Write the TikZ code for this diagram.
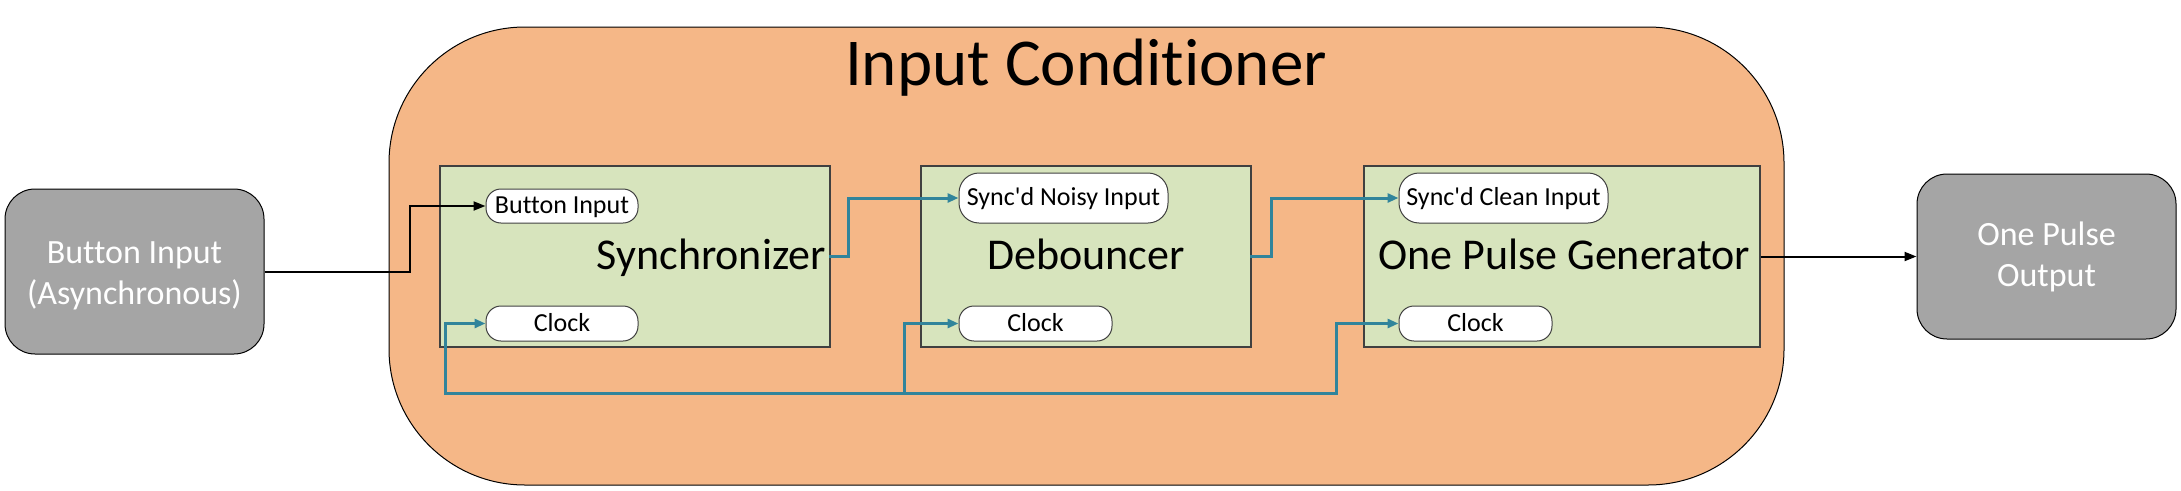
\documentclass[tikz,border=0pt]{standalone}
\usepackage{fontspec}
\setmainfont{Carlito}[Ligatures={NoCommon}]
\usetikzlibrary{arrows.meta}
\definecolor{orangefill}{HTML}{F5B787}
\definecolor{greenfill}{HTML}{D7E4BD}
\definecolor{grayfill}{HTML}{A5A5A5}
\definecolor{tealcol}{HTML}{31849B}
\definecolor{boxborder}{HTML}{404040}
\begin{document}
\begin{tikzpicture}[x=1pt,y=-1pt,
  endbox/.style={draw=black, line width=1pt, fill=grayfill, rounded corners=30pt,
    minimum width=259pt, minimum height=165pt, text=white, align=center,
    font=\fontsize{34}{41}\selectfont, inner sep=0pt},
  outerbox/.style={draw=black, line width=1pt, fill=orangefill, rounded corners=136pt, inner sep=0pt},
  block/.style={draw=boxborder, line width=1.3pt, fill=greenfill, minimum height=181pt, inner sep=0pt},
  pill/.style={draw=boxborder, line width=1pt, fill=white, rounded corners=15pt,
    font=\fontsize{26}{30}\selectfont, text height=15pt, text depth=0pt, inner sep=0pt, minimum height=35pt},
  tallpill/.style={pill, minimum height=50pt, rounded corners=20pt},
  blocklabel/.style={font=\fontsize{44}{52}\selectfont, inner sep=0pt, anchor=base},
  blackarrow/.style={draw=black, line width=2pt, -{Triangle[length=12pt,width=9pt]}},
  tealarrow/.style={draw=tealcol, line width=3pt, line cap=rect, -{Triangle[length=11pt,width=9pt]}},
]
\useasboundingbox (0,0) rectangle (2181,490);

% outer container
\node[outerbox, minimum width=1395pt, minimum height=458pt] (ic) at (1086.5,256) {};
\node[font=\fontsize{67}{80}\selectfont, anchor=base, inner sep=0pt] (title) at (1086,85) {Input Conditioner};

% end boxes
\node[endbox] (bin) at (134.5,271.5) {\rule{0pt}{30pt}Button Input\\(Asynchronous)};
\node[endbox] (out) at (2046.5,256.5) {One Pulse\\Output};

% blocks
\node[block, minimum width=390pt] (sync) at (635,256.5) {};
\node[block, minimum width=330pt] (deb) at (1086,256.5) {};
\node[block, minimum width=396pt] (opg) at (1562,256.5) {};

\node[blocklabel, anchor=base east] (synclabel) at (826,269) {Synchronizer};
\node[blocklabel] (deblabel) at (1086,269) {Debouncer};
\node[blocklabel] (opglabel) at (1564,269) {One Pulse Generator};

% ports
\node[pill, minimum width=152pt, minimum height=34pt] (sbtn) at (562,206) {Button Input};
\node[pill, minimum width=152pt] (sclk) at (562,323.5) {Clock};
\node[tallpill, minimum width=209pt] (dnoisy) at (1063.5,198) {Sync\textquotesingle d Noisy Input};
\node[pill, minimum width=153pt] (dclk) at (1035.5,323.5) {Clock};
\node[tallpill, minimum width=209pt] (oclean) at (1503.5,198) {Sync\textquotesingle d Clean Input};
\node[pill, minimum width=153pt] (oclk) at (1475.5,323.5) {Clock};

% bus coordinates
\coordinate (busL) at (445,393);
\coordinate (busM) at (904,393);
\coordinate (busR) at (1336,393);

% connectors
\draw[blackarrow] (bin.east) -- ++(145,0) |- (sbtn.west);
\draw[tealarrow] (sync.east) -- ++(18,0) |- (dnoisy.west);
\draw[tealarrow] (deb.east) -- ++(20,0) |- (oclean.west);
\draw[blackarrow] (opg.east) -- (out.west);

\draw[tealarrow] (busL) -- (busR) |- (oclk.west);
\draw[tealarrow] (busL) |- (sclk.west);
\draw[tealarrow] (busM) |- (dclk.west);
\end{tikzpicture}
\end{document}
